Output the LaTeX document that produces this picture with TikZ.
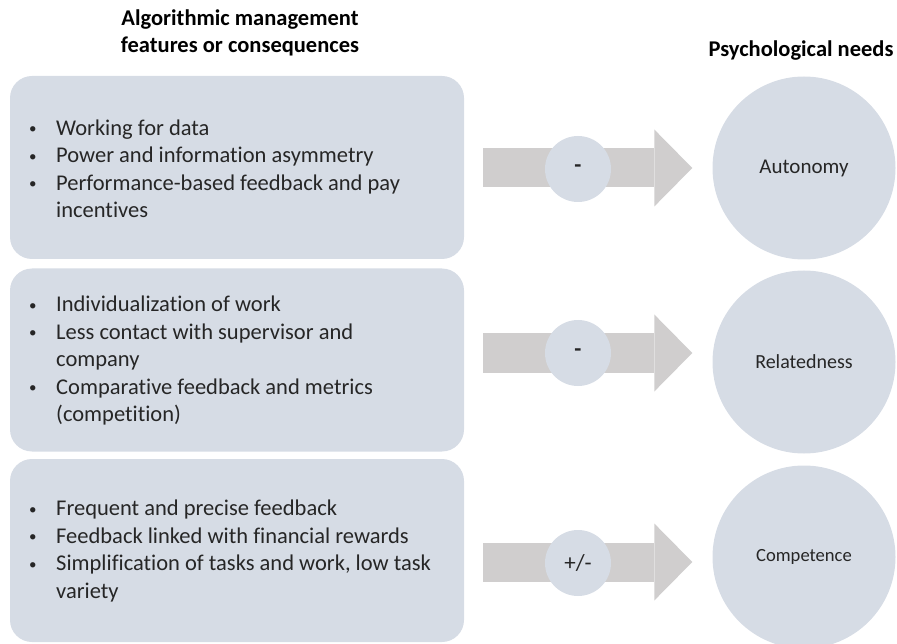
\documentclass[tikz,border=0pt]{standalone}
\usepackage{fontspec}
\setmainfont{Carlito}[Ligatures=CommonOff]
\usetikzlibrary{arrows.meta, calc}
\definecolor{boxblue}{HTML}{D6DCE5}
\definecolor{arrowgrey}{HTML}{D0CECE}
\definecolor{textgrey}{HTML}{262626}
\newcommand{\bdot}{\raisebox{1.5pt}{\fontsize{15}{15}\selectfont\textbullet}}
\newcommand{\bitem}[1]{\makebox[28pt][l]{\hspace*{1pt}\bdot}#1}
\newcommand{\bcont}[1]{\hspace*{28pt}#1}

\begin{document}
\begin{tikzpicture}
    [
        x=1pt, y=-1pt,
        heading/.style = {font=\fontsize{22.5}{27.5}\selectfont\bfseries, align=center, inner sep=0pt},
        featbox/.style = {shape=rectangle, fill=boxblue, rounded corners=22pt, minimum width=454pt, minimum height=183pt, inner sep=0pt},
        points/.style = {anchor=west, align=left, inner sep=0pt, text=textgrey, font=\fontsize{22.5}{27.5}\selectfont},
        need/.style = {shape=circle, fill=boxblue, minimum size=183pt, inner sep=0pt, text=textgrey},
        sign/.style = {shape=circle, fill=boxblue, minimum size=66pt, inner sep=0pt, text=textgrey, font=\fontsize{23}{26}\selectfont},
        flow/.style = {draw=arrowgrey, line width=39pt, -{Triangle[length=38pt, width=77pt, line width=0pt, fill=arrowgrey]}},
    ]
    \useasboundingbox (0,0) rectangle (897,644);

    \node[heading] (lefthead) at (240,33) {Algorithmic management\\features or consequences};
    \node[heading] (righthead) at (801,51) {Psychological needs};

    \node[featbox] (feat1) at (237,167.5) {};
    \node[featbox] (feat2) at (237,360)   {};
    \node[featbox] (feat3) at (237,550.5) {};

    \node[points] (list1) at (28,169) {\bitem{Working for data}\\\bitem{Power and information asymmetry}\\\bitem{Performance-based feedback and pay}\\\bcont{incentives}};
    \node[points] (list2) at (28,361) {\bitem{Individualization of work}\\\bitem{Less contact with supervisor and}\\\bcont{company}\\\bitem{Comparative feedback and metrics}\\\bcont{(competition)}};
    \node[points] (list3) at (28,551) {\bitem{Frequent and precise feedback}\\\bitem{Feedback linked with financial rewards}\\\bitem{Simplification of tasks and work, low task}\\\bcont{variety}};

    \node[need, font=\fontsize{21}{24}\selectfont] (need1) at (804,168) {Autonomy};
    \node[need, font=\fontsize{20}{24}\selectfont] (need2) at (804,362) {Relatedness};
    \node[need, font=\fontsize{18.6}{22}\selectfont] (need3) at (804,557) {Competence};

    \coordinate (lvl1) at (0,168);
    \coordinate (lvl2) at (0,353);
    \coordinate (lvl3) at (0,562);

    \draw[flow] ($(feat1.east |- lvl1)+(19,0)$) -- ($(need1.west |- lvl1)+(-20,0)$);
    \draw[flow] ($(feat2.east |- lvl2)+(19,0)$) -- ($(need2.west |- lvl2)+(-20,0)$);
    \draw[flow] ($(feat3.east |- lvl3)+(19,0)$) -- ($(need3.west |- lvl3)+(-20,0)$);

    \node[sign] (sign1) at (578,169) {\textbf{-}};
    \node[sign] (sign2) at (578,353) {\textbf{-}};
    \node[sign] (sign3) at (578,563) {+/-};
\end{tikzpicture}
\end{document}
